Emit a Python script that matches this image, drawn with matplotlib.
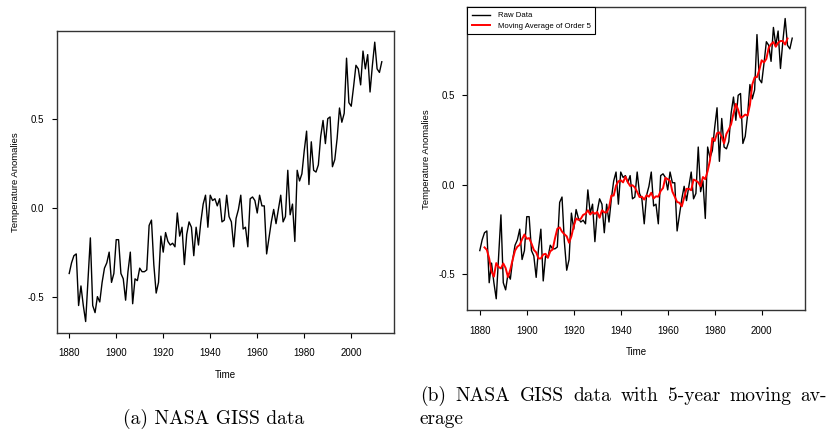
import matplotlib
matplotlib.use("Agg")
import matplotlib.pyplot as plt
import numpy as np
import pandas as pd

# NASA GISS annual temperature anomalies
anomalies = [
    -0.37, -0.31, -0.27, -0.26, -0.55, -0.44, -0.55, -0.64, -0.40, -0.17,  # 1880s
    -0.55, -0.59, -0.50, -0.53, -0.42, -0.34, -0.31, -0.25, -0.42, -0.37,  # 1890s
    -0.18, -0.18, -0.37, -0.40, -0.52, -0.36, -0.25, -0.54, -0.40, -0.41,  # 1900s
    -0.34, -0.36, -0.36, -0.35, -0.10, -0.07, -0.32, -0.48, -0.42, -0.16,  # 1910s
    -0.25, -0.14, -0.19, -0.21, -0.20, -0.22, -0.03, -0.16, -0.11, -0.32,  # 1920s
    -0.15, -0.08, -0.11, -0.27, -0.11, -0.21, -0.08, 0.02, 0.07, -0.11,    # 1930s
    0.07, 0.04, 0.05, 0.01, 0.05, -0.08, -0.07, 0.07, -0.05, -0.08,        # 1940s
    -0.22, -0.06, -0.01, 0.07, -0.12, -0.11, -0.22, 0.05, 0.06, 0.04,      # 1950s
    -0.03, 0.07, 0.01, 0.01, -0.26, -0.17, -0.08, -0.01, -0.09, -0.01,     # 1960s
    0.07, -0.08, -0.05, 0.21, -0.04, 0.02, -0.19, 0.21, 0.15, 0.19,        # 1970s
    0.32, 0.43, 0.13, 0.37, 0.21, 0.20, 0.24, 0.40, 0.49, 0.36,            # 1980s
    0.50, 0.51, 0.23, 0.27, 0.39, 0.56, 0.48, 0.53, 0.84, 0.59,            # 1990s
    0.57, 0.68, 0.80, 0.78, 0.69, 0.88, 0.78, 0.86, 0.65, 0.80,            # 2000s
    0.93, 0.78, 0.76, 0.82,                                                # 2010-2013
]
years = np.arange(1880, 1880 + len(anomalies))
ma_order = 5

xticks = [1880, 1900, 1920, 1940, 1960, 1980, 2000]
yticks = [-0.5, 0.0, 0.5]
ytick_labels = ["-0.5", "0.0", "0.5"]

captions = ["(a) NASA GISS data",
            "(b) NASA GISS data with 5-year moving av-",
            "erage"]

plt.rcParams['font.family'] = ['Liberation Sans', 'DejaVu Sans']
plt.rcParams['axes.unicode_minus'] = False

W, H = 829, 430
fig = plt.figure(figsize=(W / 100, H / 100), dpi=100)


def add_panel(l, t, r, b):
    ax = fig.add_axes([l / W, 1 - b / H, (r - l) / W, (b - t) / H])
    wpx, hpx = r - l, b - t
    ax.margins(x=0.04, y=0.04)
    ax.set_xticks(xticks)
    ax.set_yticks(yticks)
    ax.set_yticklabels(ytick_labels)
    ax.tick_params(direction='out', length=3.3, width=0.8, labelsize=7,
                   colors='black')
    ax.tick_params(axis='x', pad=8)
    ax.tick_params(axis='y', pad=5.5)
    for s in ax.spines.values():
        s.set_color('#333333')
        s.set_linewidth(1.0)
    ax.text(0.5, -42 / hpx, "Time", transform=ax.transAxes,
            ha='center', va='center', fontsize=7)
    ax.text(-41 / wpx, 0.5, "Temperature Anomalies", transform=ax.transAxes,
            ha='center', va='center', rotation=90, fontsize=6.8)
    return ax


# (a) raw data
ax1 = add_panel(56.7, 31, 394.3, 332.7)
ax1.plot(years, anomalies, color='black', lw=1.0)

# (b) raw data + moving average
ma = pd.Series(anomalies).rolling(ma_order, center=True).mean()
ax2 = add_panel(467.3, 7.3, 804.7, 310)
ax2.plot(years, anomalies, color='black', lw=1.0, label='Raw Data')
ax2.plot(years, ma, color='red', lw=1.4, label='Moving Average of Order 5')
leg = ax2.legend(loc='upper left', borderaxespad=0, fancybox=False,
                 edgecolor='black', framealpha=1, fontsize=5.6,
                 handlelength=2.3, handletextpad=1.0, borderpad=0.6,
                 labelspacing=0.35)
leg.get_frame().set_linewidth(0.8)

cap_size = 14
fig.text(214 / W, 1 - 424 / H, captions[0], family='cmr10', fontsize=cap_size,
         ha='center', va='baseline')

# justified first line of caption (b)
words = captions[1].split()
word_texts = [fig.text(0, 1 - 401 / H, w, family='cmr10', fontsize=cap_size,
                       ha='left', va='baseline') for w in words]
fig.canvas.draw()
renderer = fig.canvas.get_renderer()
widths = [t.get_window_extent(renderer).width for t in word_texts]
gap = (827 - 420 - sum(widths)) / (len(words) - 1)
x = 420
for t, w in zip(word_texts, widths):
    t.set_x(x / W)
    x += w + gap

fig.text(420 / W, 1 - 424 / H, captions[2], family='cmr10', fontsize=cap_size,
         ha='left', va='baseline')

fig.savefig("out.png", dpi=100)
